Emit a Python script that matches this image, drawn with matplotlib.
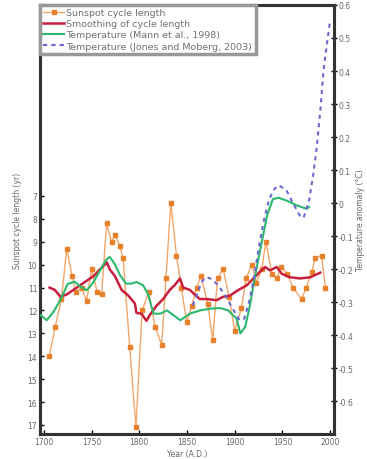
import numpy as np
from matplotlib import pyplot as plt

# Sunspot cycle length (yr), one point per half cycle
sunspot_year = [1705.6, 1712, 1718.5, 1724, 1729.7, 1733.5, 1739.5, 1744.8, 1750,
                1756, 1760.5, 1765.8, 1771, 1774.4, 1779.7, 1783, 1790, 1796.5,
                1803, 1810, 1816.5, 1823.5, 1828, 1833, 1839, 1844, 1849.7, 1855,
                1860, 1864.7, 1871.7, 1877, 1882, 1888, 1894, 1900, 1907, 1912,
                1918, 1922.5, 1928.4, 1932.6, 1939, 1944, 1948.7, 1955, 1961, 1970,
                1975, 1981, 1984.4, 1991, 1995]
sunspot_len = [14.0, 12.7, 11.5, 9.3, 10.5, 11.2, 11.0, 11.6, 10.2,
               11.2, 11.3, 8.2, 9.0, 8.7, 9.2, 9.7, 13.6, 17.1,
               12.0, 11.2, 12.7, 13.5, 10.6, 7.3, 9.6, 11.0, 12.5, 11.8,
               11.0, 10.5, 11.7, 13.3, 10.6, 10.2, 11.4, 12.9, 11.9, 10.6,
               10.0, 10.8, 10.2, 9.0, 10.4, 10.6, 10.1, 10.4, 11.0, 11.5,
               11.0, 10.3, 9.7, 9.6, 11.0]

# Smoothed cycle length
smooth_year = [1706, 1711.5, 1717.5, 1724, 1731, 1738, 1745, 1752, 1759, 1766,
               1769, 1774.5, 1781.5, 1788.5, 1795.5, 1797, 1802.5, 1807.5, 1811,
               1818, 1825, 1832, 1837, 1842.7, 1846, 1853, 1858, 1863.5, 1870.5,
               1881, 1888, 1895, 1904, 1912.7, 1919.6, 1926.6, 1932, 1937, 1944,
               1949.4, 1958, 1968.6, 1979, 1989.6]
smooth_len = [11.0, 11.1, 11.4, 11.3, 11.1, 10.9, 10.7, 10.5, 10.2, 9.9,
              10.2, 10.5, 11.1, 11.35, 11.7, 12.1, 12.15, 12.45, 12.2,
              11.8, 11.5, 11.1, 10.9, 10.6, 11.0, 11.1, 11.3, 11.5, 11.5,
              11.55, 11.4, 11.35, 11.1, 10.9, 10.6, 10.3, 10.1, 10.25, 10.1,
              10.4, 10.55, 10.6, 10.55, 10.35]

# Temperature anomaly, Mann et al. (1998)
mann_year = [1697, 1703, 1710, 1718, 1725, 1732, 1739, 1745, 1751, 1758, 1765,
             1769, 1774, 1780, 1786, 1792, 1797, 1804, 1809, 1815, 1822, 1829,
             1836, 1843, 1853, 1864, 1874, 1885, 1893, 1902, 1906, 1911, 1916,
             1920, 1927, 1934, 1940, 1946, 1954, 1965, 1975, 1978]
mann_temp = [-0.34, -0.355, -0.33, -0.29, -0.245, -0.238, -0.254, -0.264, -0.244,
             -0.209, -0.173, -0.163, -0.183, -0.219, -0.244, -0.244, -0.239,
             -0.249, -0.275, -0.335, -0.335, -0.325, -0.34, -0.355, -0.335,
             -0.325, -0.32, -0.318, -0.325, -0.35, -0.395, -0.375, -0.31,
             -0.24, -0.138, -0.037, 0.012, 0.016, 0.008, -0.007, -0.017, -0.012]

# Temperature anomaly, Jones and Moberg (2003)
jones_year = [1856, 1860, 1865, 1870, 1876, 1883, 1890, 1895, 1900, 1905, 1910,
              1915, 1920, 1925, 1930, 1935, 1940, 1946, 1954, 1961, 1968, 1972,
              1975, 1978, 1982, 1986, 1990, 1993, 1997, 2000]
jones_temp = [-0.31, -0.28, -0.24, -0.224, -0.23, -0.25, -0.28, -0.305, -0.33,
              -0.355, -0.35, -0.3, -0.23, -0.14, -0.06, 0.0, 0.038, 0.054, 0.04,
              0.0, -0.037, -0.045, -0.02, 0.01, 0.08, 0.17, 0.29, 0.40, 0.49, 0.555]

temp_ticks = [-0.6, -0.5, -0.4, -0.3, -0.2, -0.1, 0, 0.1, 0.2, 0.3, 0.4, 0.5, 0.6]
year_ticks = [1700, 1750, 1800, 1850, 1900, 1950, 2000]


def main():
    grey = '#666666'

    fig = plt.figure(figsize=(3.67, 4.60), dpi=100)
    ax1 = fig.add_axes([0.109, 0.054, 0.801, 0.933])
    ax2 = ax1.twinx()

    l1, = ax1.plot(sunspot_year, sunspot_len, color='#f2a66a', lw=1.0,
                   marker='s', ms=2.5, mfc='#e8802c', mec='#e8802c', zorder=2)
    l2, = ax1.plot(smooth_year, smooth_len, color='#c8203c', lw=1.8, zorder=3)
    l3, = ax2.plot(mann_year, mann_temp, color='#2cb86c', lw=1.5, zorder=3)
    l4, = ax2.plot(jones_year, jones_temp, color='#6a6ad0', lw=1.5,
                   ls=(0, (2, 2)), zorder=4)

    ax1.set_xlim(1696, 2004)
    ax1.set_ylim(17.4, -1.34)
    ax1.set_yticks(range(7, 18))
    ax1.set_xticks(year_ticks)
    ax2.set_ylim(-0.7, 0.6)
    ax2.set_yticks(temp_ticks)
    ax2.set_yticklabels(['%g' % v for v in temp_ticks])

    for ax in (ax1, ax2):
        for s in ax.spines.values():
            s.set_linewidth(2.2)
            s.set_color('#333333')
    ax1.tick_params(axis='both', direction='in', length=3, width=1,
                    labelsize=5.5, labelcolor=grey, pad=2)
    ax2.tick_params(axis='y', direction='inout', length=5, width=1,
                    labelsize=5.5, labelcolor=grey, pad=1)

    ax1.set_xlabel('Year (A.D.)', fontsize=5.5, color=grey, labelpad=2)
    ax1.set_ylabel('Sunspot cycle length (yr)', fontsize=5.5, color=grey, labelpad=4)
    ax2.set_ylabel('Temperature anomaly (°C)', fontsize=5.5, color=grey, labelpad=2)

    leg = ax2.legend([l1, l2, l3, l4],
                     ['Sunspot cycle length', 'Smoothing of cycle length',
                      'Temperature (Mann et al., 1998)',
                      'Temperature (Jones and Moberg, 2003)'],
                     loc='upper left', bbox_to_anchor=(0.0, 1.0), fontsize=6.8,
                     frameon=True, fancybox=False, borderaxespad=0.0,
                     handlelength=2.2, handletextpad=0.25, labelspacing=0.22,
                     borderpad=0.35, framealpha=1, numpoints=1)
    leg.get_frame().set_edgecolor('#999999')
    leg.get_frame().set_linewidth(2.5)
    for t in leg.get_texts():
        t.set_color('#707070')

    plt.savefig('out.png', dpi=100)


if __name__ == "__main__":
    main()
